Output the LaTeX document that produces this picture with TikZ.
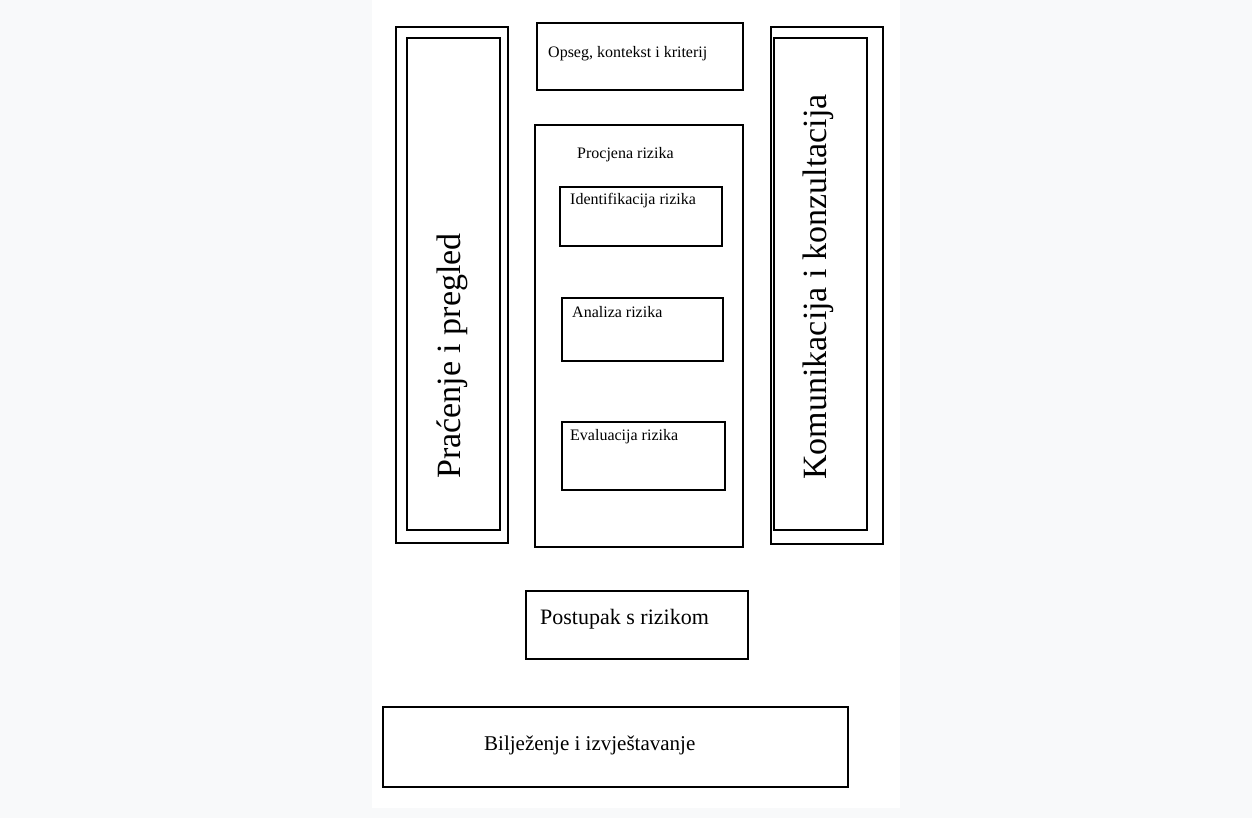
\documentclass[tikz,border=0pt]{standalone}
\usepackage{fontspec}
\setmainfont{Liberation Serif}
\definecolor{pagebg}{HTML}{F8F9FA}
\begin{document}
\begin{tikzpicture}[x=1pt,y=-1pt,
  box/.style={draw=black, line width=2.4pt, inner sep=0pt, outer sep=0pt, anchor=north west},
  thinbox/.style={draw=black, line width=1.7pt, inner sep=0pt, outer sep=0pt, anchor=north west},
  small/.style={inner sep=0pt, anchor=base west, font=\fontsize{16}{18}\selectfont},
  mid/.style={inner sep=0pt, anchor=base west, font=\fontsize{22}{26}\selectfont},
  big/.style={inner sep=0pt, anchor=center, rotate=90, font=\fontsize{34}{40}\selectfont}]
\fill[pagebg] (0,0) rectangle (1252,818);
\fill[white] (372,0) rectangle (900,808);
\useasboundingbox (0,0) rectangle (1252,818);
% left column
\node[box, minimum width=112pt, minimum height=516pt] (prOut) at (396,27) {};
\node[thinbox, minimum width=93pt, minimum height=492pt] (prIn) at (407,38) {};
\node[big] (prT) at (452,356) {Praćenje i pregled};
% right column
\node[box, minimum width=112pt, minimum height=517pt] (koOut) at (771,27) {};
\node[thinbox, minimum width=93pt, minimum height=492pt] (koIn) at (774,38) {};
\node[big] (koT) at (818,287) {Komunikacija i konzultacija};
% top
\node[box, minimum width=206pt, minimum height=67pt] (op) at (537,23) {};
\node[small] (opT) at (548,58) {Opseg, kontekst i kriterij};
% procjena
\node[box, minimum width=208pt, minimum height=422pt] (pc) at (535,125) {};
\node[small] (pcT) at (577,159) {Procjena rizika};
\node[box, minimum width=162pt, minimum height=59pt] (id) at (560,187) {};
\node[small] (idT) at (570,205) {Identifikacija rizika};
\node[box, minimum width=161pt, minimum height=63pt] (an) at (562,298) {};
\node[small] (anT) at (572,317) {Analiza rizika};
\node[box, minimum width=163pt, minimum height=68pt] (ev) at (562,422) {};
\node[small] (evT) at (570,440) {Evaluacija rizika};
% postupak
\node[box, minimum width=222pt, minimum height=68pt] (po) at (526,591) {};
\node[mid] (poT) at (540,624) {Postupak s rizikom};
% biljezenje
\node[box, minimum width=465pt, minimum height=80pt] (bi) at (383,707) {};
\node[mid, font=\fontsize{21}{25}\selectfont] (biT) at (484,750) {Bilježenje i izvještavanje};
\end{tikzpicture}
\end{document}
